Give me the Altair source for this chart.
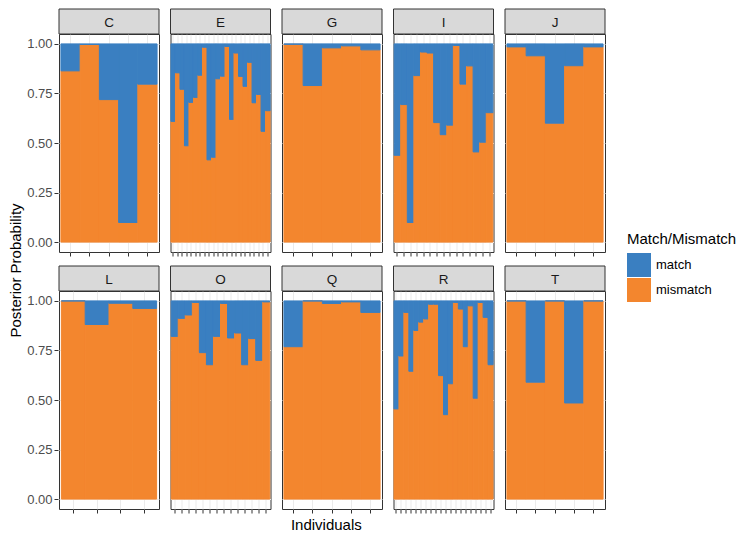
import altair as alt
import pandas as pd

# ---- data (mismatch posterior per individual) ----
panels = ["C", "E", "G", "I", "J", "L", "O", "Q", "R", "T"]
C = [0.864, 0.997, 0.719, 0.099, 0.797]
E = [0.609, 0.854, 0.771, 0.486, 0.705, 0.730, 0.842, 0.983, 0.415, 0.428, 0.824,
     0.837, 0.987, 0.619, 0.954, 0.836, 0.786, 0.907, 0.703, 0.745, 0.559, 0.663]
G = [0.998, 0.790, 0.980, 0.990, 0.970]
I = [0.438, 0.694, 0.099, 0.840, 0.959, 0.954, 0.603, 0.542, 0.590, 0.992, 0.797,
     0.889, 0.455, 0.504, 0.653]
J = [0.985, 0.940, 0.600, 0.890, 0.985]
L = [1.000, 0.881, 0.988, 0.962]
O = [0.821, 0.912, 0.929, 0.992, 0.739, 0.678, 0.821, 0.987, 0.813, 0.838, 0.678,
     0.810, 0.700, 0.995]
Q = [0.769, 1.000, 0.987, 0.995, 0.942]
R = [0.455, 0.722, 0.942, 0.645, 0.851, 0.893, 0.909, 0.983, 0.983, 0.623, 0.426,
     0.582, 0.992, 0.959, 0.769, 0.975, 0.509, 0.992, 0.917, 0.678]
T = [1.000, 0.590, 1.000, 0.485, 1.000]
values = {"C": C, "E": E, "G": G, "I": I, "J": J, "L": L, "O": O, "Q": Q, "R": R, "T": T}

statuses = ["match", "mismatch"]
colors = ["#3A7FC1", "#F3862E"]

rows = []
for p in panels:
    for i, m in enumerate(values[p]):
        ind = f"{p}{i + 1:02d}"
        rows.append({"panel": p, "ind": ind, "i": i, "status": "mismatch", "lo": 0.0, "hi": m})
        rows.append({"panel": p, "ind": ind, "i": i, "status": "match", "lo": m, "hi": 1.0})
df = pd.DataFrame(rows)

FONT = "Liberation Sans"
W, H, SH = 100, 218, 25

cscale = alt.Scale(domain=statuses, range=colors)

bars = alt.Chart().mark_bar(strokeWidth=1).encode(
    x=alt.X("ind:N", title=None,
            scale=alt.Scale(paddingInner=0, paddingOuter=0.1),
            axis=alt.Axis(labels=False, ticks=True, tickSize=4, tickColor="#333333",
                          grid=True, gridColor="#EBEBEB", domain=False)),
    y=alt.Y("lo:Q", title=None,
            scale=alt.Scale(domain=[-0.05, 1.05], nice=False, zero=False),
            axis=alt.Axis(values=[0, 0.25, 0.5, 0.75, 1], format=".2f", grid=True,
                          gridColor="#EBEBEB", tickSize=4, tickColor="#333333",
                          labelColor="#4D4D4D", labelFontSize=13, labelPadding=2,
                          domain=False)),
    y2="hi:Q",
    color=alt.Color("status:N", scale=cscale,
                    legend=alt.Legend(title="Match/Mismatch", orient="none",
                                      legendX=568, legendY=198,
                                      symbolType="square", symbolSize=576,
                                      symbolStrokeWidth=0, titleFontSize=15,
                                      titleFontWeight="normal", titleColor="black",
                                      labelFontSize=13, labelColor="black",
                                      labelOffset=5, rowPadding=1, titlePadding=6)),
    stroke=alt.Stroke("status:N", scale=cscale, legend=None),
)

first = "datum.i == 0 && datum.status == 'match'"
strip_rect = alt.Chart().mark_rect(fill="#D9D9D9", stroke="#333333", strokeWidth=1).encode(
    x=alt.value(0), x2=alt.value(W), y=alt.value(-SH), y2=alt.value(0)
).transform_filter(first)
strip_text = alt.Chart().mark_text(font=FONT, fontSize=13.5, color="#1A1A1A").encode(
    x=alt.value(W / 2), y=alt.value(-SH / 2 + 1), text="panel:N"
).transform_filter(first)

facet = alt.layer(bars, strip_rect, strip_text, data=df).properties(
    width=W, height=H
).facet(
    facet=alt.Facet("panel:N", sort=panels,
                    header=alt.Header(labels=False, title="", labelExpr="''",
                                      labelFontSize=0, labelPadding=0, titlePadding=0)),
    columns=5,
    spacing={"row": 8, "column": 9.5},
).resolve_scale(x="independent").properties(
    title=alt.TitleParams("Individuals", orient="bottom", anchor="middle", fontSize=15,
                          fontWeight="normal", color="black", font=FONT, offset=4, dx=10)
)

chart = alt.vconcat(facet).properties(
    title=alt.TitleParams("Posterior Probability", orient="left", anchor="middle",
                          fontSize=15, fontWeight="normal", color="black", font=FONT,
                          offset=3),
    padding=0,
).configure(font=FONT).configure_view(
    stroke="#333333", strokeWidth=1
).configure_header(labels=False, labelFontSize=0, labelPadding=0, titlePadding=0)

chart.save("out.html", embed_options={"renderer": "svg", "actions": False})
